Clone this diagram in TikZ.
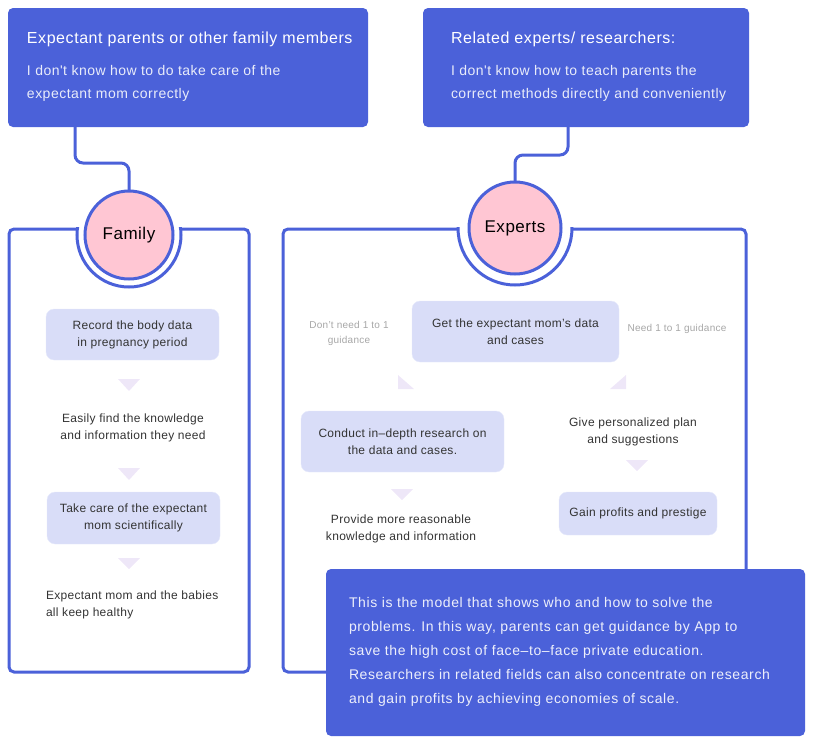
\documentclass[tikz,border=0pt]{standalone}
\usepackage{fontspec}
\setmainfont{Liberation Sans}
\newfontfamily\titlefont{Liberation Sans}[LetterSpace=3.5]
\newfontfamily\bodyfont{Liberation Sans}[LetterSpace=3.5]
\newfontfamily\sumfont{Liberation Sans}[LetterSpace=4.4]
\newfontfamily\boxfont{Liberation Sans}[LetterSpace=2.5]
\newfontfamily\rolefont{Liberation Sans}[LetterSpace=3]
\definecolor{mainblue}{HTML}{4B61D9}
\definecolor{softblue}{HTML}{D9DDF8}
\definecolor{softpink}{HTML}{FFC6D3}
\definecolor{arrowlilac}{HTML}{EEE7F8}

\begin{document}
\begin{tikzpicture}[x=1pt, y=-1pt,
    every node/.style={inner sep=0pt, outer sep=0pt},
    bluebox/.style={fill=mainblue, rounded corners=5pt, anchor=north west},
    heading/.style={text=white, font=\titlefont\fontsize{16}{18}\selectfont, anchor=west},
    need/.style={text=white!88!mainblue, font=\bodyfont\fontsize{14}{23}\selectfont, align=left, anchor=west},
    role/.style={circle, fill=softpink, draw=mainblue, line width=3pt, font=\rolefont\fontsize{17}{18}\selectfont},
    panel/.style={draw=mainblue, line width=3pt, rounded corners=5pt, anchor=north west},
    ring/.style={draw=mainblue, line width=3pt},
    link/.style={draw=mainblue, line width=3pt, rounded corners=8pt},
    stepbox/.style={fill=softblue, draw=softblue!60!white, rounded corners=8pt, align=center,
      font=\boxfont\fontsize{12}{17}\selectfont, text=black!80},
    result/.style={align=center, font=\boxfont\fontsize{12}{17}\selectfont, text=black!80},
    hint/.style={align=center, font=\boxfont\fontsize{10}{15}\selectfont, text=black!35},
    tri/.style={fill=arrowlilac},
    summary/.style={text=white!90!mainblue, font=\sumfont\fontsize{14}{24}\selectfont, align=left, anchor=west}]
  \useasboundingbox (0,0) rectangle (819,748);

  \node[bluebox, minimum width=360, minimum height=119] (famprob) at (8,8) {};
  \node[heading] (famtitle) at (27,39.5) {Expectant parents or other family members};
  \node[need] (famneed) at (27,83) {I don't know how to do take care of the\\expectant mom correctly};

  \node[bluebox, minimum width=326, minimum height=119] (expprob) at (423,8) {};
  \node[heading] (exptitle) at (451,39.5) {Related experts/ researchers:};
  \node[need] (expneed) at (451,83) {I don't know how to teach parents the\\correct methods directly and conveniently};

  \node[panel, minimum width=240, minimum height=443] (fampanel) at (9,229) {};
  \node[panel, minimum width=463, minimum height=443] (exppanel) at (283,229) {};

  \fill[white] (129,235) circle (52);
  \fill[white] (515,228) circle (57);
  \begin{scope}
    \clip (0,227.5) rectangle (819,748);
    \draw[ring] (129,235) circle (52);
    \draw[ring] (515,228) circle (57);
  \end{scope}
  \node[role, minimum size=88] (fam) at (129,235) {Family};
  \node[role, minimum size=92] (exp) at (515,228) {Experts};

  \draw[link] (famprob.south west) ++(67,0) -- ++(0,36) -| (fam.north);
  \draw[link] (expprob.south west) ++(145,0) -- ++(0,28) -| (exp.north);

  \node[stepbox, minimum width=173, minimum height=51] (record) at (132.5,334.5) {Record the body data\\in pregnancy period};
  \fill[tri] (118,379) -- (140,379) -- (129,391) -- cycle;
  \node[result] (find) at (133,428) {Easily find the knowledge\\and information they need};
  \fill[tri] (118,468) -- (140,468) -- (129,480) -- cycle;
  \node[stepbox, minimum width=173, minimum height=52] (care) at (133.5,518) {Take care of the expectant\\mom scientifically};
  \fill[tri] (118,558) -- (140,558) -- (129,569) -- cycle;
  \node[result, align=left, anchor=west] (healthy) at (46,605) {Expectant mom and the babies\\all keep healthy};

  \node[hint] (noguide) at (349,333) {Don’t need 1 to 1\\guidance};
  \node[stepbox, minimum width=207, minimum height=61] (getdata) at (515.5,331.5) {Get the expectant mom’s data\\and cases};
  \node[hint] (guide) at (677,329) {Need 1 to 1 guidance};
  \fill[tri] (398,375) -- (398,389) -- (414,389) -- cycle;
  \fill[tri] (626,375) -- (626,389) -- (610,389) -- cycle;
  \node[stepbox, minimum width=203, minimum height=61] (research) at (402.5,441.5) {Conduct in–depth research on\\the data and cases.};
  \node[result] (plan) at (633,432) {Give personalized plan\\and suggestions};
  \fill[tri] (626,460) -- (648,460) -- (637,471) -- cycle;
  \fill[tri] (391,489) -- (413,489) -- (402,500) -- cycle;
  \node[result] (provide) at (401,529) {Provide more reasonable\\knowledge and information};
  \node[stepbox, minimum width=158, minimum height=43] (profit) at (638,513.5) {Gain profits and prestige};

  \node[bluebox, minimum width=479, minimum height=167] (sumbox) at (326,569) {};
  \node[summary] (sumtext) at (349,651.5) {This is the model that shows who and how to solve the\\problems. In this way, parents can get guidance by App to\\save the high cost of face–to–face private education.\\Researchers in related fields can also concentrate on research\\and gain profits by achieving economies of scale.};
\end{tikzpicture}
\end{document}
